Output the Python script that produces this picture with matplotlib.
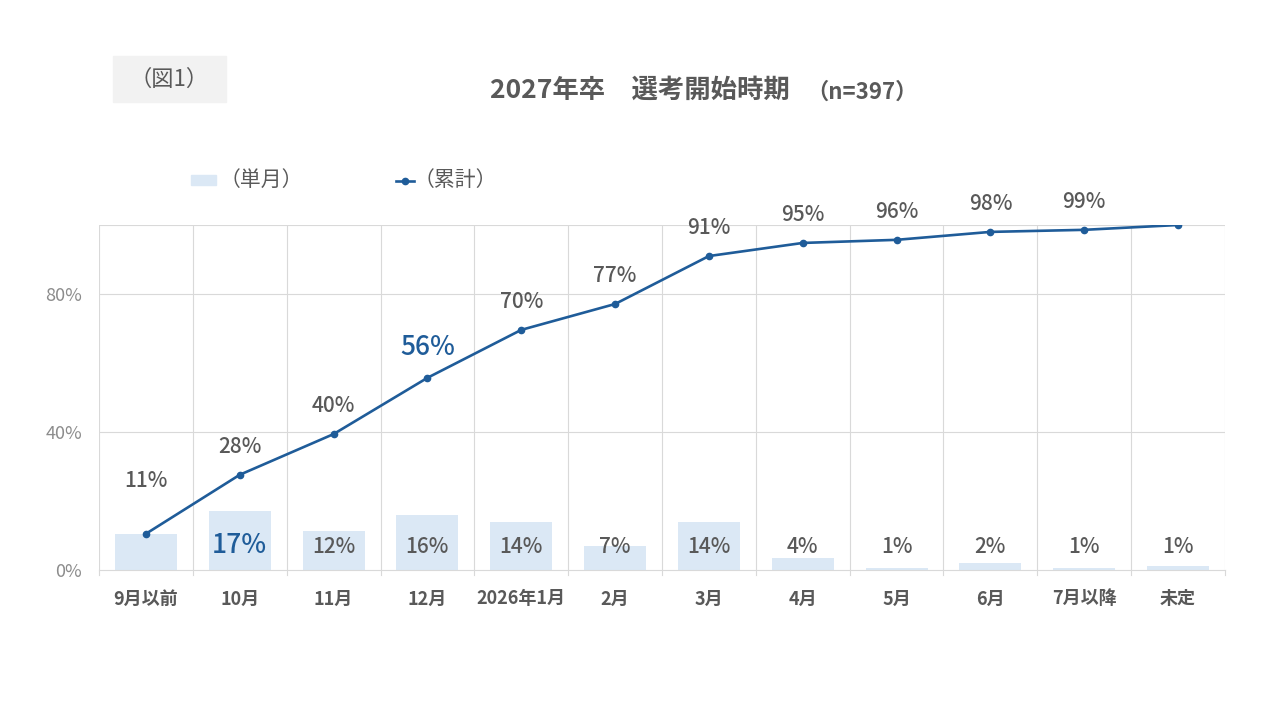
import numpy as np
import matplotlib.pyplot as plt
from matplotlib.patches import Rectangle
from matplotlib.lines import Line2D

plt.rcParams['font.family'] = ['Noto Sans CJK JP', 'DejaVu Sans']

categories = ['9月以前', '10月', '11月', '12月', '2026年1月', '2月',
              '3月', '4月', '5月', '6月', '7月以降', '未定']
monthly = [10.5, 17.1, 11.4, 15.9, 13.9, 7.0, 13.9, 3.5, 0.7, 2.0, 0.6, 1.2]
cumulative = [10.5, 27.6, 39.4, 55.7, 69.6, 77.1, 91.0, 94.8, 95.7, 98.0, 98.6, 100.0]
monthly_labels = ['', '17%', '12%', '16%', '14%', '7%', '14%', '4%', '1%', '2%', '1%', '1%']
cum_labels = ['11%', '28%', '40%', '56%', '70%', '77%', '91%', '95%', '96%', '98%', '99%', '']

BAR = '#dbe8f5'
LINE = '#1f5c99'
GRAY = '#595959'

fig = plt.figure(figsize=(12.8, 7.2), dpi=100)
ax = fig.add_axes([99 / 1280, 150 / 720, 1126 / 1280, 345 / 720])

x = np.arange(len(categories))
ax.bar(x, monthly, width=0.66, color=BAR, zorder=2)
ax.plot(x, cumulative, color=LINE, lw=1.9, marker='o', ms=4.5, zorder=3)

ax.set_xlim(-0.5, len(categories) - 0.5)
ax.set_ylim(0, 100)
ax.set_yticks([0, 40, 80])
ax.set_yticklabels(['0%', '40%', '80%'], color='#8c8c8c', fontsize=13)
ax.set_xticks(x)
ax.set_xticklabels(categories, fontsize=13, fontweight='bold', color=GRAY)
ax.tick_params(axis='y', length=0, pad=12)
ax.tick_params(axis='x', length=0, pad=14)

# grid lines
for yy in [40, 80, 100]:
    ax.axhline(yy, color='#d9d9d9', lw=0.8, zorder=1)
for xb in np.arange(-0.5, len(categories), 1.0):
    ax.axvline(xb, color='#d9d9d9', lw=0.8, zorder=1)
    ax.plot([xb, xb], [0, -1.5], color='#d9d9d9', lw=0.8, clip_on=False)
for s in ['top', 'right', 'left']:
    ax.spines[s].set_visible(False)
ax.spines['bottom'].set_color('#d9d9d9')
ax.spines['bottom'].set_linewidth(0.8)

# bar labels
for i, t in enumerate(monthly_labels):
    if not t:
        continue
    if i == 1:
        ax.text(i, 7.0, t, ha='center', va='center', fontsize=19,
                fontweight='medium', color=LINE)
    else:
        ax.text(i, 6.8, t, ha='center', va='center', fontsize=15,
                fontweight='medium', color=GRAY)

# cumulative labels
for i, t in enumerate(cum_labels):
    if not t:
        continue
    off = 38 if i == 0 else 20
    if i == 3:
        ax.annotate(t, (i, cumulative[i]), xytext=(0, off + 2), textcoords='offset points',
                    ha='center', va='center', fontsize=19, fontweight='medium', color=LINE)
    else:
        ax.annotate(t, (i, cumulative[i]), xytext=(0, off), textcoords='offset points',
                    ha='center', va='center', fontsize=15, fontweight='medium', color=GRAY)

# figure label box
fig.patches.append(Rectangle((113 / 1280, 1 - 102 / 720), 113 / 1280, 46 / 720,
                             transform=fig.transFigure, color='#f2f2f2', zorder=0))
fig.text(169 / 1280, 1 - 79 / 720, '（図1）', ha='center', va='center',
         fontsize=16, color=GRAY)

# title
fig.text(790 / 1280, 1 - 90 / 720, '2027年卒　選考開始時期', ha='right', va='center',
         fontsize=19, fontweight='bold', color=GRAY)
fig.text(806 / 1280, 1 - 92 / 720, '（n=397）', ha='left', va='center',
         fontsize=16, fontweight='bold', color=GRAY)

# legend
fig.patches.append(Rectangle((191 / 1280, 1 - 185 / 720), 25 / 1280, 10 / 720,
                             transform=fig.transFigure, color=BAR))
fig.text(220 / 1280, 1 - 180 / 720, '（単月）', ha='left', va='center',
         fontsize=15, color=GRAY)
fig.lines.append(Line2D([396 / 1280, 414 / 1280], [1 - 181 / 720, 1 - 181 / 720],
                        transform=fig.transFigure, color=LINE, lw=1.9))
fig.lines.append(Line2D([405 / 1280], [1 - 181 / 720], transform=fig.transFigure,
                        color=LINE, marker='o', ms=4.5))
fig.text(414 / 1280, 1 - 180 / 720, '（累計）', ha='left', va='center',
         fontsize=15, color=GRAY)

fig.savefig('out.png', dpi=100, facecolor='white')
